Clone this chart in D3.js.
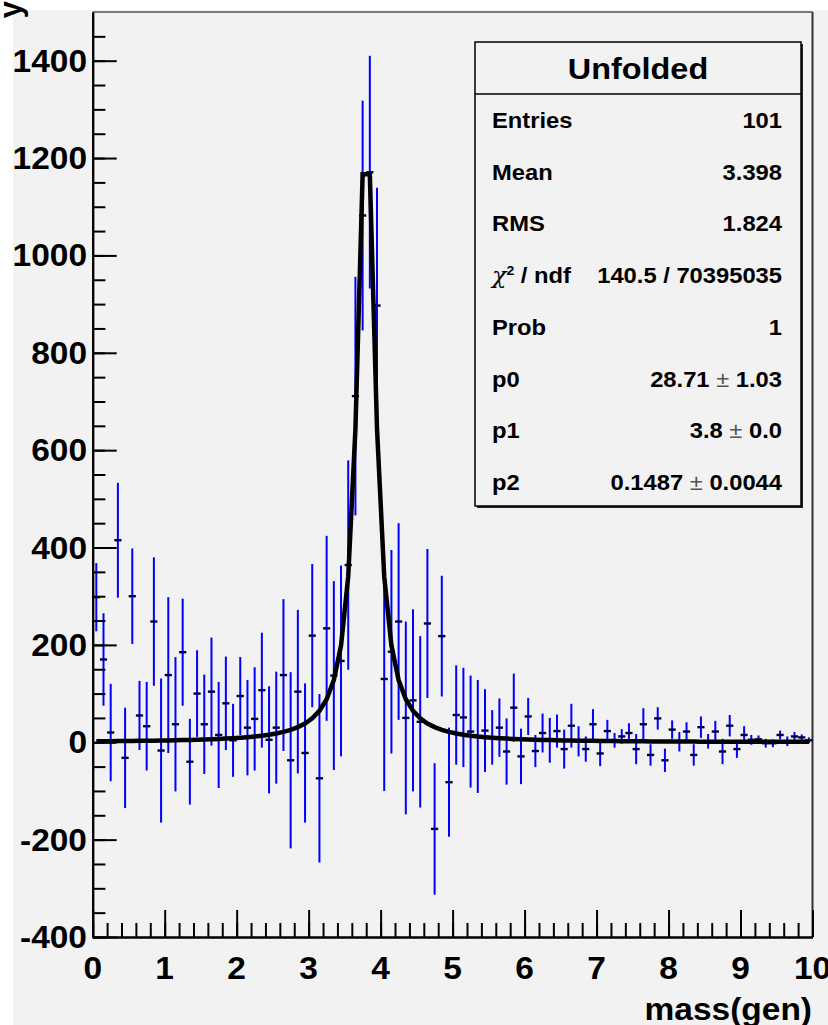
<!DOCTYPE html>
<html>
<head>
<meta charset="utf-8">
<script src="https://cdn.jsdelivr.net/npm/d3@7"></script>
<style>
  html, body { margin: 0; padding: 0; background: #ffffff; }
  text { font-family: "Liberation Sans", Arial, Helvetica, sans-serif; font-weight: bold; fill: #000; }
</style>
</head>
<body>
<div id="idChart"></div>
<script>
// histogram: 100 bins of width 0.1 from 0 to 10
var xMin = 0, xMax = 10, nBins = 100;

var binValues = [
  298, 170, 20, 415, -32, 300, 55, 33, 248, -17,
  138, 37, 185, -40, 100, 37, 104, 15, 80, 4,
  95, 30, 48, 107, 5, 30, 138, -37, 104, -22,
  219, -74, 234, 137, 167, 364, 711, 1082, 1171, 897,
  130, 186, 248, 50, 86, 42, 244, -178, 218, -82,
  56, 51, 22, 12, 24, 10, 30, -19, 71, -29,
  53, -18, 19, 4, 23, -14, 34, 2, -14, 37,
  -23, 23, 4, 12, 19, -14, 37, -26, 49, -37,
  26, 1, 22, -26, 31, 2, 22, -19, 34, -14,
  15, 5, 6, -2, -2, 15, 2, 12, 10, 4
];

var binErrors = [
  70, 95, 100, 118, 103, 98, 71, 91, 132, 148,
  160, 138, 110, 88, 89, 102, 111, 109, 96, 75,
  80, 98, 106, 118, 110, 115, 156, 181, 168, 143,
  147, 173, 190, 194, 196, 215, 245, 236, 239, 242,
  230, 209, 202, 198, 187, 176, 153, 135, 124, 112,
  102, 102, 115, 116, 85, 56, 60, 68, 70, 57,
  38, 33, 40, 46, 34, 40, 45, 31, 26, 31,
  26, 23, 15, 15, 20, 31, 33, 22, 23, 24,
  19, 20, 19, 22, 22, 15, 22, 26, 22, 18,
  18, 10, 8, 9, 8, 9, 10, 9, 6, 6
];

// fitted curve read at the bin centres
var fitValues = [
  2.0, 2.2, 2.3, 2.4, 2.6, 2.7, 2.9, 3.1, 3.3, 3.5,
  3.8, 4.1, 4.4, 4.8, 5.2, 5.7, 6.2, 6.8, 7.5, 8.3,
  9.3, 10.5, 11.8, 13.5, 15.6, 18.1, 21.4, 25.5, 31.1, 38.6,
  49.1, 64.6, 88.4, 127.8, 198.6, 340.6, 643.6, 1166.7, 1166.7, 643.6,
  340.6, 198.6, 127.8, 88.4, 64.6, 49.1, 38.6, 31.1, 25.5, 21.4,
  18.1, 15.6, 13.5, 11.8, 10.5, 9.3, 8.3, 7.5, 6.8, 6.2,
  5.7, 5.2, 4.8, 4.4, 4.1, 3.8, 3.5, 3.3, 3.1, 2.9,
  2.7, 2.6, 2.4, 2.3, 2.2, 2.0, 1.9, 1.8, 1.7, 1.7,
  1.6, 1.5, 1.5, 1.4, 1.3, 1.3, 1.2, 1.2, 1.1, 1.1,
  1.0, 1.0, 1.0, 0.9, 0.9, 0.9, 0.8, 0.8, 0.8, 0.8
];

var xTicks = [0, 1, 2, 3, 4, 5, 6, 7, 8, 9, 10];
var yTicks = [-400, -200, 0, 200, 400, 600, 800, 1000, 1200, 1400];
var xTitle = "mass(gen)";
var yTitle = "y";

var statTitle = "Unfolded";
var statRows = [
  ["Entries", "101"],
  ["Mean", "3.398"],
  ["RMS", "1.824"],
  ["chi2", "140.5 / 70395035"],
  ["Prob", "1"],
  ["p0", "28.71", "1.03"],
  ["p1", "3.8", "0.0"],
  ["p2", "0.1487", "0.0044"]
];

function DrawHisto()
{
	var iWidth = 828;
	var iHeight = 1025;
	var myMargin = {left: 92.7, right: 812.5, top: 12, bottom: 937};
	var fStretch = 1.08;

	var mySvg = d3.select("#idChart").append("svg")
		.attr("width", iWidth)
		.attr("height", iHeight);

	// pad
	mySvg.append("rect")
		.attr("x", 13).attr("y", 10)
		.attr("width", iWidth - 13).attr("height", iHeight - 10)
		.attr("fill", "#f2f2f2");

	var x = d3.scaleLinear().domain([xMin, xMax]).range([myMargin.left, myMargin.right]);
	var y = d3.scaleLinear().domain([-400, 1500]).range([myMargin.bottom, myMargin.top]);
	var fBin = (xMax - xMin) / nBins;

	function stretchText(g, px, py, sText, iSize, sAnchor) {
		return g.append("text")
			.attr("transform", "translate(" + px + "," + py + ") scale(" + fStretch + ",1)")
			.attr("text-anchor", sAnchor)
			.style("font-size", iSize + "px")
			.text(sText);
	}

	// frame top and right
	mySvg.append("line")
		.attr("x1", myMargin.left).attr("x2", myMargin.right)
		.attr("y1", myMargin.top).attr("y2", myMargin.top)
		.attr("stroke", "#7a7a7a").attr("stroke-width", 2);
	mySvg.append("line")
		.attr("x1", myMargin.right).attr("x2", myMargin.right)
		.attr("y1", myMargin.top).attr("y2", myMargin.bottom)
		.attr("stroke", "#333").attr("stroke-width", 2);

	// data points with error bars
	var myBins = d3.range(nBins).map(function(i) {
		return {c: xMin + (i + 0.5) * fBin, v: binValues[i], e: binErrors[i]};
	});
	var myPoints = mySvg.append("g").attr("class", "HistoPoints");
	myPoints.selectAll(".errY").data(myBins).enter()
		.append("line")
			.attr("class", "errY")
			.attr("x1", function(d) { return x(d.c); })
			.attr("x2", function(d) { return x(d.c); })
			.attr("y1", function(d) { return y(d.v - d.e); })
			.attr("y2", function(d) { return y(d.v + d.e); })
			.attr("stroke", "#0000ff").attr("stroke-width", 2);
	myPoints.selectAll(".errX").data(myBins).enter()
		.append("line")
			.attr("class", "errX")
			.attr("x1", function(d) { return x(d.c - fBin / 2); })
			.attr("x2", function(d) { return x(d.c + fBin / 2); })
			.attr("y1", function(d) { return y(d.v); })
			.attr("y2", function(d) { return y(d.v); })
			.attr("stroke", "#000040").attr("stroke-width", 2.4);

	// fit curve
	var myLine = d3.line()
		.x(function(d, i) { return x(myBins[i].c); })
		.y(function(d) { return y(d); });
	mySvg.append("path")
		.datum(fitValues)
		.attr("d", myLine)
		.attr("fill", "none")
		.attr("stroke", "#000")
		.attr("stroke-width", 4.5)
		.attr("stroke-linejoin", "miter");

	// axes: ticks inside the frame
	var yMinor = d3.range(-400, 1500, 50);
	var xMinor = d3.range(0, 10.001, 0.2);

	mySvg.append("g")
		.attr("transform", "translate(" + myMargin.left + ",0)")
		.call(d3.axisLeft(y).tickValues(yMinor).tickSizeInner(-12.7).tickSizeOuter(0).tickFormat(""));
	mySvg.append("g")
		.attr("transform", "translate(" + myMargin.left + ",0)")
		.call(d3.axisLeft(y).tickValues(yTicks).tickSizeInner(-24).tickSizeOuter(0).tickFormat(""));
	mySvg.append("g")
		.attr("transform", "translate(0," + myMargin.bottom + ")")
		.call(d3.axisBottom(x).tickValues(xMinor).tickSizeInner(-14).tickSizeOuter(0).tickFormat(""));
	mySvg.append("g")
		.attr("transform", "translate(0," + myMargin.bottom + ")")
		.call(d3.axisBottom(x).tickValues(xTicks).tickSizeInner(-27).tickSizeOuter(0).tickFormat(""));

	mySvg.selectAll(".domain").attr("stroke", "#000").attr("stroke-width", 2);
	mySvg.selectAll(".tick line").attr("stroke", "#000").attr("stroke-width", 2);

	// tick labels
	var myLabels = mySvg.append("g");
	yTicks.forEach(function(v) {
		stretchText(myLabels, 87, y(v) + 11, String(v), 31, "end");
	});
	xTicks.forEach(function(v) {
		stretchText(myLabels, x(v), 979, String(v), 31, "middle");
	});

	// axis titles
	stretchText(myLabels, 812, 1020, xTitle, 31, "end");
	myLabels.append("text")
		.attr("transform", "translate(21,1) rotate(-90)")
		.attr("text-anchor", "end")
		.style("font-size", "31px")
		.text(yTitle);

	// stats box
	var myBox = mySvg.append("g");
	var bx0 = 475, bx1 = 801, by0 = 42, by1 = 506;
	myBox.append("rect")
		.attr("x", bx0 + 2).attr("y", by0 + 2)
		.attr("width", bx1 - bx0).attr("height", by1 - by0)
		.attr("fill", "#222");
	myBox.append("rect")
		.attr("x", bx0).attr("y", by0)
		.attr("width", bx1 - bx0).attr("height", by1 - by0)
		.attr("fill", "#f2f2f2").attr("stroke", "#000").attr("stroke-width", 1.5);
	myBox.append("line")
		.attr("x1", bx0).attr("x2", bx1)
		.attr("y1", 94).attr("y2", 94)
		.attr("stroke", "#000").attr("stroke-width", 1.5);

	stretchText(myBox, (bx0 + bx1) / 2, 79, statTitle, 30, "middle");

	var fRowY = 120, fRowStep = 51.7;
	statRows.forEach(function(row, i) {
		var py = fRowY + i * fRowStep + 8;
		if (row[0] == "chi2") {
			var t = myBox.append("text")
				.attr("transform", "translate(492," + py + ") scale(" + fStretch + ",1)")
				.style("font-size", "22px");
			t.append("tspan").style("font-weight", "normal").style("font-family", "DejaVu Serif, serif").style("font-style", "italic").text("\u03c7");
			t.append("tspan").attr("dy", -8).style("font-size", "13px").text("2");
			t.append("tspan").attr("dy", 8).text(" / ndf");
		} else {
			stretchText(myBox, 492, py, row[0], 22, "start");
		}
		if (row.length == 3) {
			var tv = myBox.append("text")
				.attr("transform", "translate(782," + py + ") scale(" + fStretch + ",1)")
				.attr("text-anchor", "end")
				.style("font-size", "22px");
			tv.append("tspan").text(row[1]);
			tv.append("tspan").style("font-weight", "normal").style("fill", "#555").text(" \u00b1 ");
			tv.append("tspan").text(row[2]);
		} else {
			stretchText(myBox, 782, py, row[1], 22, "end");
		}
	});
}

DrawHisto();
</script>
</body>
</html>
